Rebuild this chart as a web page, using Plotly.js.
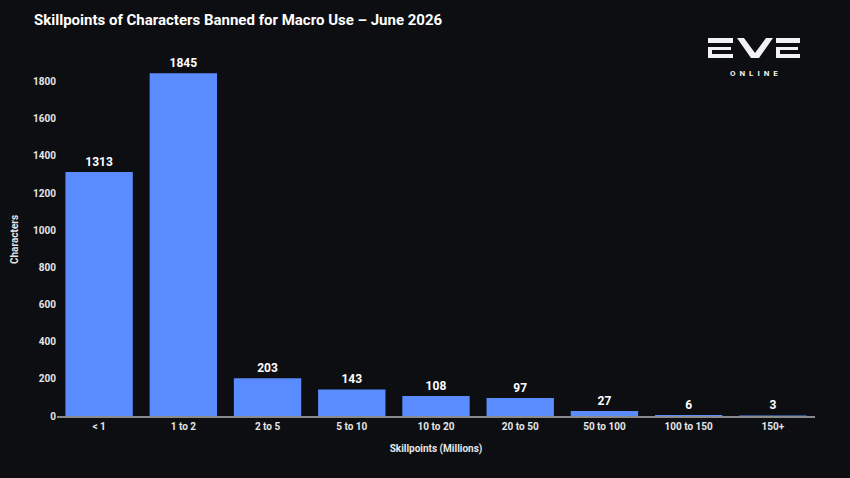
<!DOCTYPE html>
<html>
<head>
<meta charset="utf-8">
<script src="https://cdn.plot.ly/plotly-3.0.1.min.js"></script>
<style>
	html, body { margin: 0; padding: 0; background: #0c0e12; }
	#plot { width: 850px; height: 478px; }
</style>
</head>
<body>
<div id="plot"></div>
<script>
const categories = ["< 1", "1 to 2", "2 to 5", "5 to 10", "10 to 20", "20 to 50", "50 to 100", "100 to 150", "150+"];
const characters = [1313, 1845, 203, 143, 108, 97, 27, 6, 3];
const yTicks = [0, 200, 400, 600, 800, 1000, 1200, 1400, 1600, 1800];

const BG = "#0c0e12";
const BAR = "#5b8cff";
const FONT = "Roboto, 'Open Sans', sans-serif";

const W = 850;
const H = 478;
const margin = { l: 57, r: 35, t: 63, b: 62 };

// logo pieces, in page pixels, converted to paper coords below
const px = x => (x - margin.l) / (W - margin.l - margin.r);
const py = y => 1 - (y - margin.t) / (H - margin.t - margin.b);

function rect(x0, y0, x1, y1) {
	return {
		type: "rect", xref: "paper", yref: "paper",
		x0: px(x0), x1: px(x1), y0: py(y1), y1: py(y0),
		fillcolor: "#f2f2f2", line: { width: 0 },
	};
}

function letterE(x0, x1) {
	return [
		rect(x0, 38, x1, 43),
		rect(x0, 47, x1 - 2, 50),
		rect(x0, 47, x0 + 4, 58),
		rect(x0, 54, x1, 58),
	];
}

const logoShapes = [
	...letterE(708, 733),
	{
		type: "path", xref: "paper", yref: "paper",
		path: `M ${px(737)} ${py(38)} L ${px(744)} ${py(38)} L ${px(755)} ${py(53)} L ${px(766)} ${py(38)} L ${px(773)} ${py(38)} L ${px(759)} ${py(58)} L ${px(751)} ${py(58)} Z`,
		fillcolor: "#f2f2f2", line: { width: 0 },
	},
	...letterE(776, 800),
];

const data = [{
	type: "bar",
	x: categories,
	y: characters,
	marker: { color: BAR },
	text: characters.map(String),
	textposition: "outside",
	cliponaxis: false,
	textfont: { color: "#ffffff", size: 12, family: FONT, weight: 700 },
	hoverinfo: "none",
}];

const layout = {
	width: W,
	height: H,
	margin,
	paper_bgcolor: BG,
	plot_bgcolor: BG,
	showlegend: false,
	bargap: 0.2,
	font: { family: FONT, color: "#e6e6e6" },
	title: {
		text: "Skillpoints of Characters Banned for Macro Use – June 2026",
		font: { size: 15, color: "#ffffff", family: FONT, weight: 700 },
		xref: "container", yref: "container",
		x: 34 / W, xanchor: "left",
		y: 1 - 20 / H, yanchor: "middle",
	},
	xaxis: {
		showgrid: false,
		showline: true,
		linecolor: "#8a8a8a",
		linewidth: 1.5,
		ticks: "",
		tickfont: { size: 10, color: "#e6e6e6", family: FONT, weight: 700 },
		title: {
			text: "Skillpoints (Millions)",
			font: { size: 10, color: "#e6e6e6", family: FONT, weight: 700 },
			standoff: 14,
		},
	},
	yaxis: {
		range: [0, 1900],
		showgrid: false,
		zeroline: false,
		showline: false,
		tickvals: yTicks,
		ticks: "",
		ticklen: 0,
		tickfont: { size: 10, color: "#e6e6e6", family: FONT, weight: 700 },
		title: {
			text: "Characters",
			font: { size: 10, color: "#e6e6e6", family: FONT, weight: 700 },
			standoff: 12,
		},
	},
	shapes: logoShapes,
	annotations: [{
		text: "O\u00a0\u00a0N\u00a0\u00a0L\u00a0\u00a0I\u00a0\u00a0N\u00a0\u00a0E",
		xref: "paper", yref: "paper",
		x: px(754), y: py(73),
		xanchor: "center", yanchor: "middle",
		showarrow: false,
		font: { size: 8, color: "#f2f2f2", family: FONT, weight: 700 },
	}],
};

Plotly.newPlot("plot", data, layout, { displayModeBar: false, staticPlot: true });
</script>
</body>
</html>
